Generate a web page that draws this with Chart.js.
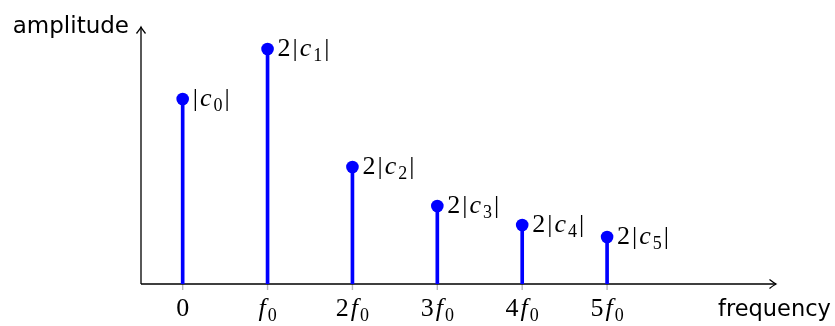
<!DOCTYPE html>
<html>
<head>
<meta charset="utf-8">
<script src="https://cdn.jsdelivr.net/npm/chart.js@4"></script>
<style>
  html, body { margin: 0; padding: 0; background: #fff; }
  #wrap { width: 835px; height: 326px; }
</style>
</head>
<body>
<div id="wrap"><canvas id="espectro"></canvas></div>
<script>
// harmônicas (múltiplos de f0) e amplitudes de cada componente
const harmonicas = [0, 1, 2, 3, 4, 5];
const amplitudes = [1.85, 2.35, 1.17, 0.78, 0.59, 0.47];
// rótulos do eixo de frequência e rótulos ao lado de cada ponto
const rotulosEixo = ['0', 'f_0', '2f_0', '3f_0', '4f_0', '5f_0'];
const rotulosPontos = ['|c_0|', '2|c_1|', '2|c_2|', '2|c_3|', '2|c_4|', '2|c_5|'];

const pontos = harmonicas.map((h, i) => ({ x: h, y: amplitudes[i] }));

const AZUL = '#0000ff';
const SERIF = '"Liberation Serif", "DejaVu Serif", serif';
const SANS = '"DejaVu Sans", sans-serif';
const TAM = 26;     // tamanho da fonte das fórmulas
const ESPACO = 2;   // espaço extra entre símbolos

// quebra "2f_0" em pedaços: letras em itálico, "_x" vira subscrito
function partesMath(txt) {
    const partes = [];
    for (let i = 0; i < txt.length; i++) {
        let ch = txt[i];
        let sub = false;
        if (ch === '_') { sub = true; ch = txt[++i]; }
        partes.push({ t: ch, italico: /[a-z]/i.test(ch), sub: sub });
    }
    return partes;
}

function fonteParte(p) {
    const tam = p.sub ? Math.round(TAM * 0.7) : TAM;
    return (p.italico ? 'italic ' : '') + tam + 'px ' + SERIF;
}

function larguraMath(ctx, partes) {
    let w = 0;
    partes.forEach((p, i) => {
        ctx.font = fonteParte(p);
        w += ctx.measureText(p.t).width + (i > 0 ? ESPACO : 0);
    });
    return w;
}

// desenha a fórmula com a linha de base em y
function desenhaMath(ctx, txt, x, y, alinhar) {
    const partes = partesMath(txt);
    let cx = x;
    if (alinhar === 'center') cx = x - larguraMath(ctx, partes) / 2;
    ctx.textAlign = 'left';
    ctx.textBaseline = 'alphabetic';
    ctx.fillStyle = '#000';
    partes.forEach((p, i) => {
        if (i > 0) cx += ESPACO;
        ctx.font = fonteParte(p);
        ctx.fillText(p.t, cx, p.sub ? y + 5 : y);
        cx += ctx.measureText(p.t).width;
    });
}

function seta(ctx, x, y, dir) {
    // ponta de seta aberta, estilo "->"
    ctx.beginPath();
    if (dir === 'cima') {
        ctx.moveTo(x - 4.5, y + 6.5);
        ctx.quadraticCurveTo(x - 1, y + 2, x, y);
        ctx.quadraticCurveTo(x + 1, y + 2, x + 4.5, y + 6.5);
    } else {
        ctx.moveTo(x - 6.5, y - 4.5);
        ctx.quadraticCurveTo(x - 2, y - 1, x, y);
        ctx.quadraticCurveTo(x - 2, y + 1, x - 6.5, y + 4.5);
    }
    ctx.stroke();
}

// eixos com setas, marcas e rótulos do eixo
const pluginEixos = {
    id: 'eixos',
    beforeDatasetsDraw(chart) {
        const ctx = chart.ctx;
        const xs = chart.scales.x, ys = chart.scales.y;
        const area = chart.chartArea;
        const y0 = ys.getPixelForValue(0);
        ctx.save();

        // marcas cinza abaixo do eixo
        ctx.strokeStyle = '#b8b8b8';
        ctx.lineWidth = 1.4;
        harmonicas.forEach(h => {
            const px = xs.getPixelForValue(h);
            ctx.beginPath();
            ctx.moveTo(px, y0);
            ctx.lineTo(px, y0 + 6);
            ctx.stroke();
        });

        ctx.strokeStyle = '#000';
        ctx.lineWidth = 1.3;
        ctx.beginPath();
        ctx.moveTo(area.left, y0);
        ctx.lineTo(area.right, y0);
        ctx.moveTo(area.left, y0);
        ctx.lineTo(area.left, area.top);
        ctx.stroke();
        seta(ctx, area.right, y0, 'direita');
        seta(ctx, area.left, area.top, 'cima');

        // rótulos do eixo de frequência
        harmonicas.forEach((h, i) => {
            desenhaMath(ctx, rotulosEixo[i], xs.getPixelForValue(h), y0 + 32, 'center');
        });

        // títulos dos eixos
        ctx.fillStyle = '#000';
        ctx.textBaseline = 'alphabetic';
        ctx.font = '23px ' + SANS;
        ctx.textAlign = 'right';
        ctx.fillText('amplitude', area.left - 12, area.top + 6);
        ctx.font = '22.5px ' + SANS;
        ctx.textAlign = 'left';
        ctx.fillText('frequency', area.right - 58, y0 + 32);
        ctx.restore();
    },
    afterDatasetsDraw(chart) {
        const ctx = chart.ctx;
        const xs = chart.scales.x, ys = chart.scales.y;
        ctx.save();
        pontos.forEach((p, i) => {
            const px = xs.getPixelForValue(p.x);
            const py = ys.getPixelForValue(p.y);
            desenhaMath(ctx, rotulosPontos[i], px + 10, py + 7, 'left');
        });
        ctx.restore();
    }
};

const ctx = document.getElementById('espectro').getContext('2d');
new Chart(ctx, {
    type: 'scatter',
    data: {
        datasets: [{
            type: 'bar',
            label: 'hastes',
            data: pontos,
            backgroundColor: AZUL,
            borderWidth: 0,
            barThickness: 3
        }, {
            type: 'scatter',
            label: 'amplitude',
            data: pontos,
            backgroundColor: AZUL,
            borderWidth: 0,
            pointRadius: 6.3,
            clip: false
        }]
    },
    options: {
        responsive: true,
        maintainAspectRatio: false,
        animation: false,
        layout: { padding: { left: 141, right: 59, top: 27, bottom: 42 } },
        plugins: {
            legend: { display: false },
            tooltip: { enabled: false }
        },
        scales: {
            x: { type: 'linear', min: -0.491, max: 6.99, offset: false, display: false },
            y: { type: 'linear', min: 0, max: 2.57, display: false }
        }
    },
    plugins: [pluginEixos]
});
</script>
</body>
</html>
